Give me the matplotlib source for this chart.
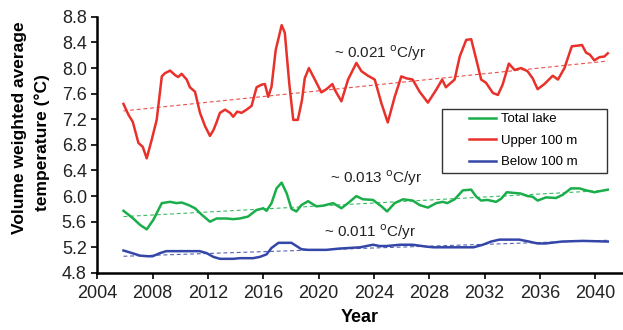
import matplotlib
matplotlib.use('Agg')
import matplotlib.pyplot as plt
from matplotlib.legend_handler import HandlerLine2D

plt.rcParams['font.family'] = ['Liberation Sans', 'DejaVu Sans']

# Upper 100 m
upper_yr = [2005.9, 2006.26, 2006.57, 2006.98, 2007.29, 2007.58, 2007.94, 2008.3, 2008.67, 2008.9,
            2009.27, 2009.63, 2009.85, 2010.1, 2010.47, 2010.7, 2011.07, 2011.43, 2011.8, 2012.15,
            2012.4, 2012.64, 2012.87, 2013.24, 2013.6, 2013.83, 2014.12, 2014.43, 2014.8, 2015.16,
            2015.52, 2015.88, 2016.12, 2016.36, 2016.6, 2016.9, 2017.33, 2017.56, 2017.88, 2018.17,
            2018.5, 2018.8, 2019.0, 2019.3, 2019.73, 2020.2, 2020.57, 2021.0, 2021.17, 2021.65,
            2022.13, 2022.73, 2023.1, 2023.57, 2024.06, 2024.54, 2025.0, 2025.5, 2025.98, 2026.34,
            2026.8, 2027.3, 2027.9, 2028.5, 2028.93, 2029.2, 2029.83, 2030.2, 2030.67, 2031.03,
            2031.4, 2031.75, 2032.1, 2032.6, 2032.96, 2033.3, 2033.75, 2034.16, 2034.64, 2035.1,
            2035.47, 2035.83, 2036.32, 2036.92, 2037.3, 2037.77, 2038.3, 2038.73, 2039.04, 2039.33,
            2039.6, 2039.93, 2040.3, 2040.65, 2040.9]
upper_t = [7.44, 7.27, 7.16, 6.83, 6.77, 6.59, 6.88, 7.19, 7.87, 7.92,
           7.96, 7.89, 7.86, 7.91, 7.82, 7.70, 7.63, 7.30, 7.09, 6.94,
           7.03, 7.16, 7.30, 7.35, 7.30, 7.24, 7.32, 7.30, 7.35, 7.41,
           7.70, 7.74, 7.75, 7.55, 7.71, 8.28, 8.67, 8.55, 7.76, 7.19,
           7.19, 7.50, 7.84, 8.00, 7.82, 7.62, 7.67, 7.75, 7.66, 7.48,
           7.82, 8.08, 7.95, 7.88, 7.82, 7.45, 7.15, 7.55, 7.87, 7.84,
           7.82, 7.63, 7.46, 7.66, 7.82, 7.70, 7.82, 8.18, 8.44, 8.45,
           8.13, 7.82, 7.77, 7.61, 7.58, 7.74, 8.07, 7.97, 8.00, 7.95,
           7.84, 7.67, 7.75, 7.88, 7.82, 8.00, 8.34, 8.35, 8.36, 8.24,
           8.21, 8.12, 8.17, 8.18, 8.23]

# Total lake
total_yr = [2005.9, 2006.26, 2006.6, 2007.1, 2007.58, 2008.06, 2008.67, 2009.27, 2009.74, 2010.1,
            2010.6, 2011.07, 2011.55, 2012.15, 2012.63, 2013.35, 2013.83, 2014.3, 2014.9, 2015.5,
            2016.0, 2016.24, 2016.6, 2016.96, 2017.33, 2017.7, 2018.04, 2018.4, 2018.76, 2019.24,
            2019.84, 2020.32, 2021.05, 2021.65, 2022.13, 2022.73, 2023.2, 2023.93, 2024.54, 2024.95,
            2025.5, 2026.1, 2026.8, 2027.3, 2027.9, 2028.5, 2028.98, 2029.3, 2029.83, 2030.43,
            2031.03, 2031.4, 2031.75, 2032.2, 2032.83, 2033.2, 2033.6, 2034.1, 2034.6, 2035.1,
            2035.47, 2035.83, 2036.44, 2037.16, 2037.64, 2038.24, 2038.85, 2039.33, 2039.93, 2040.4,
            2040.9]
total_t = [5.77, 5.71, 5.65, 5.55, 5.48, 5.63, 5.89, 5.91, 5.89, 5.90,
           5.86, 5.81, 5.71, 5.60, 5.65, 5.65, 5.64, 5.65, 5.68, 5.78,
           5.81, 5.77, 5.89, 6.12, 6.21, 6.04, 5.80, 5.76, 5.86, 5.92,
           5.84, 5.85, 5.89, 5.81, 5.89, 6.00, 5.95, 5.94, 5.84, 5.76,
           5.89, 5.95, 5.93, 5.86, 5.82, 5.89, 5.91, 5.89, 5.95, 6.09,
           6.10, 5.99, 5.93, 5.94, 5.91, 5.96, 6.06, 6.05, 6.04, 6.00,
           5.99, 5.93, 5.98, 5.97, 6.02, 6.12, 6.12, 6.09, 6.06, 6.08,
           6.10]

# Below 100 m
below_yr = [2005.9, 2006.36, 2007.1, 2007.65, 2008.0, 2008.55, 2009.0, 2009.5, 2011.4, 2011.9,
            2012.4, 2012.87, 2013.83, 2014.3, 2015.27, 2015.75, 2016.24, 2016.6, 2017.1, 2018.04,
            2018.4, 2018.76, 2019.24, 2020.57, 2021.5, 2023.0, 2023.93, 2024.4, 2024.9, 2025.9,
            2026.8, 2027.8, 2028.3, 2030.2, 2031.2, 2031.87, 2032.47, 2033.07, 2034.5, 2035.2,
            2035.83, 2036.4, 2037.6, 2039.1, 2040.9]
below_t = [5.15, 5.12, 5.07, 5.06, 5.06, 5.11, 5.14, 5.14, 5.14, 5.11,
           5.05, 5.02, 5.02, 5.03, 5.03, 5.05, 5.09, 5.19, 5.27, 5.27,
           5.22, 5.17, 5.16, 5.16, 5.18, 5.20, 5.24, 5.22, 5.22, 5.24,
           5.24, 5.21, 5.20, 5.20, 5.20, 5.24, 5.29, 5.32, 5.32, 5.29,
           5.26, 5.26, 5.29, 5.30, 5.29]

# linear trend end points
trend_yr = [2005.9, 2040.9]
upper_trend = [7.33, 8.11]
total_trend = [5.68, 6.09]
below_trend = [5.06, 5.31]

rates = ['~ 0.021', '~ 0.013', '~ 0.011']

red = '#e8312a'
green = '#1aae4a'
blue = '#3446a8'

fig = plt.figure(figsize=(6.23, 3.30), dpi=100)
ax = fig.add_axes([0.156, 0.173, 0.844, 0.776])

ax.plot(total_yr, total_t, color=green, lw=1.8, label='Total lake')
ax.plot(upper_yr, upper_t, color=red, lw=1.8, label='Upper 100 m')
ax.plot(below_yr, below_t, color=blue, lw=1.8, label='Below 100 m')

dash = (0, (3.5, 2.5))
ax.plot(trend_yr, upper_trend, color=red, lw=0.8, ls=dash, alpha=0.85)
ax.plot(trend_yr, total_trend, color=green, lw=0.8, ls=dash, alpha=0.85)
ax.plot(trend_yr, below_trend, color=blue, lw=0.8, ls=dash, alpha=0.85)

unit = r' $^{\mathrm{o}}$C/yr'
ax.text(2021.1, 8.23, rates[0] + unit, fontsize=11, va='center', color='#222222')
ax.text(2020.8, 6.28, rates[1] + unit, fontsize=11, va='center', color='#222222')
ax.text(2020.4, 5.44, rates[2] + unit, fontsize=11, va='center', color='#222222')

ax.set_xlim(2004, 2042)
ax.set_ylim(4.8, 8.8)
ax.set_xticks(range(2004, 2041, 4))
ax.set_yticks([4.8, 5.2, 5.6, 6.0, 6.4, 6.8, 7.2, 7.6, 8.0, 8.4, 8.8])
ax.set_yticklabels(['4.8', '5.2', '5.6', '6.0', '6.4', '6.8', '7.2', '7.6', '8.0', '8.4', '8.8'])
ax.tick_params(labelsize=13, width=1.2, length=4, color='black', labelcolor='#222222')
ax.tick_params(axis='x', pad=5)

for s in ['top', 'right']:
    ax.spines[s].set_visible(False)
for s in ['left', 'bottom']:
    ax.spines[s].set_linewidth(1.8)

ax.set_xlabel('Year', fontsize=13, fontweight='bold', labelpad=5)
# two-line y label, each line placed separately
fig.text(0.031, 0.612, 'Volume weighted average', rotation=90, fontsize=12.5,
         fontweight='bold', ha='center', va='center')
fig.text(0.067, 0.567, 'temperature (\u00b0C)', rotation=90, fontsize=12.5,
         fontweight='bold', ha='center', va='center')

handler = HandlerLine2D(xpad=1.72)
handles, labels = ax.get_legend_handles_labels()
leg = ax.legend(handles, labels, loc='upper left', bbox_to_anchor=(0.656, 0.383, 0.314, 0.258),
                mode='expand', fontsize=9.5, frameon=True, fancybox=False, edgecolor='black',
                handlelength=3.77, borderpad=0.33, labelspacing=0.7, handletextpad=0.38,
                borderaxespad=0, handler_map={h: handler for h in handles})
leg.get_frame().set_linewidth(1.0)

fig.savefig('out.png', dpi=100)
